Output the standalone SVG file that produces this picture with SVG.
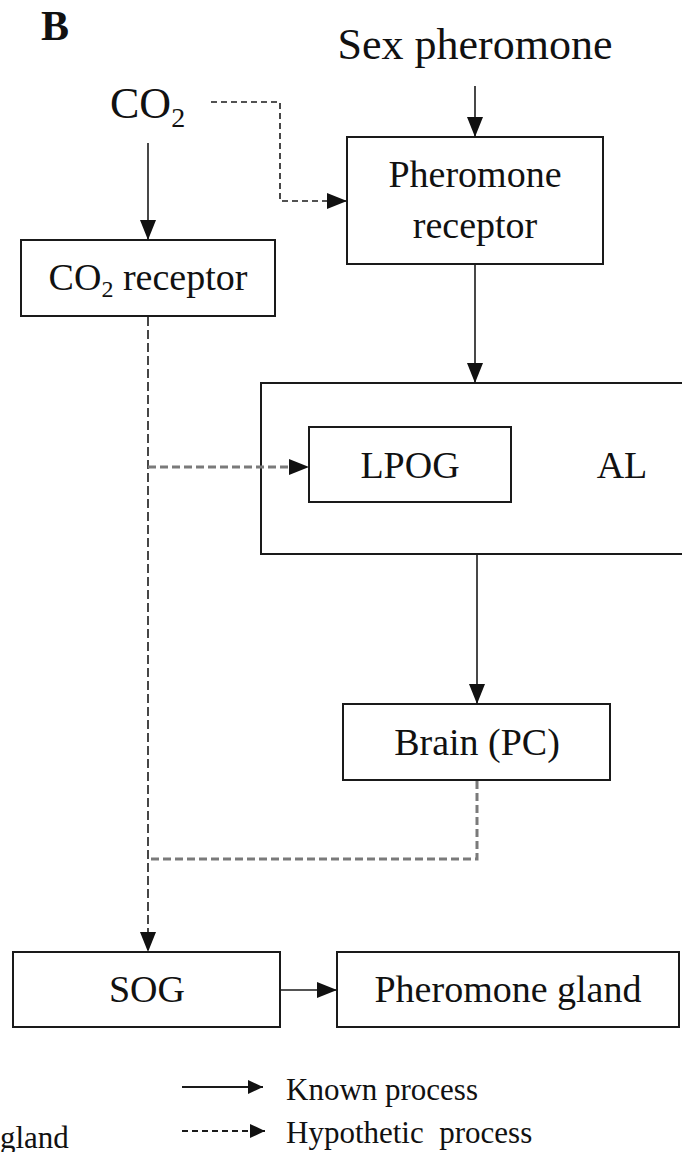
<svg xmlns="http://www.w3.org/2000/svg" width="682" height="1152" viewBox="0 0 682 1152">
<style>
text{font-family:"Liberation Serif","Tinos","Times New Roman","DejaVu Serif",serif;font-weight:normal;fill:#111}
.box{fill:#fff;stroke:#1a1a1a;stroke-width:2}
.solid{stroke:#1a1a1a;stroke-width:1.6;fill:none}
.dk{stroke:#1a1a1a;stroke-width:1.6;fill:none;stroke-dasharray:6,4}
.dkv{stroke:#1a1a1a;stroke-width:1.6;fill:none;stroke-dasharray:9,4}
.gr{stroke:#7a7a7a;stroke-width:3;fill:none;stroke-dasharray:8,4}
</style>
<defs>
<marker id="ah" markerUnits="userSpaceOnUse" markerWidth="22" markerHeight="18" refX="20" refY="8" orient="auto">
<path d="M0,0 L20,8 L0,16 z" fill="#111"/>
</marker>
<marker id="ahs" markerUnits="userSpaceOnUse" markerWidth="18" markerHeight="16" refX="15" refY="7" orient="auto">
<path d="M0,0 L15,7 L0,14 z" fill="#111"/>
</marker>
</defs>
<rect width="682" height="1152" fill="#fff"/>
<text x="41" y="40" font-size="42" style="font-weight:bold">B</text>
<g id="co2">
<text x="110" y="118" font-size="44">CO<tspan font-size="28" dy="9">2</tspan></text>
</g>
<g id="sex-pheromone">
<text x="475" y="59" font-size="44" text-anchor="middle">Sex pheromone</text>
</g>
<g id="co2-receptor">
<rect class="box" x="21" y="240" width="254" height="76"/>
<text x="148" y="290" font-size="38" text-anchor="middle">CO<tspan font-size="24" dy="7">2</tspan><tspan dy="-7"> receptor</tspan></text>
</g>
<g id="pheromone-receptor">
<rect class="box" x="347" y="137" width="256" height="127"/>
<text x="475" y="187" font-size="38" text-anchor="middle">Pheromone</text>
<text x="475" y="238" font-size="38" text-anchor="middle">receptor</text>
</g>
<g id="al">
<rect class="box" x="261" y="383" width="440" height="171"/>
<text x="622" y="478" font-size="38" text-anchor="middle">AL</text>
</g>
<g id="lpog">
<rect class="box" x="309" y="427" width="202" height="75"/>
<text x="410" y="478" font-size="38" text-anchor="middle">LPOG</text>
</g>
<g id="brain">
<rect class="box" x="343" y="704" width="267" height="76"/>
<text x="477" y="755" font-size="38" text-anchor="middle">Brain (PC)</text>
</g>
<g id="sog">
<rect class="box" x="13" y="952" width="267" height="75"/>
<text x="147" y="1002" font-size="38" text-anchor="middle">SOG</text>
</g>
<g id="pheromone-gland">
<rect class="box" x="337" y="952" width="342" height="75"/>
<text x="508" y="1002" font-size="38" text-anchor="middle">Pheromone gland</text>
</g>
<g id="connectors">
<line class="solid" x1="475" y1="86" x2="475" y2="137" marker-end="url(#ah)"/>
<line class="solid" x1="148" y1="143" x2="148" y2="240" marker-end="url(#ah)"/>
<polyline class="dk" points="211,102 280,102 280,201 347,201" marker-end="url(#ah)"/>
<line class="solid" x1="475" y1="265" x2="475" y2="383" marker-end="url(#ah)"/>
<line class="dkv" x1="148" y1="317" x2="148" y2="952" marker-end="url(#ah)"/>
<line class="gr" x1="148" y1="467" x2="292" y2="467"/>
<path d="M289,459 L309,467 L289,475 z" fill="#111"/>
<line class="solid" x1="477" y1="555" x2="477" y2="704" marker-end="url(#ah)"/>
<polyline class="gr" points="477,781 477,859 148,859"/>
<line class="solid" x1="281" y1="990" x2="337" y2="990" marker-end="url(#ah)"/>
</g>
<g id="legend">
<line stroke="#1a1a1a" stroke-width="2.2" x1="182" y1="1087" x2="263" y2="1087" marker-end="url(#ahs)"/>
<text x="286" y="1100" font-size="31">Known process</text>
<line stroke="#1a1a1a" stroke-width="2" stroke-dasharray="6,4" x1="182" y1="1131" x2="265" y2="1131" marker-end="url(#ahs)"/>
<text x="286" y="1143" font-size="31" xml:space="preserve">Hypothetic  process</text>
<text x="0" y="1148" font-size="31">gland</text>
</g>
</svg>
